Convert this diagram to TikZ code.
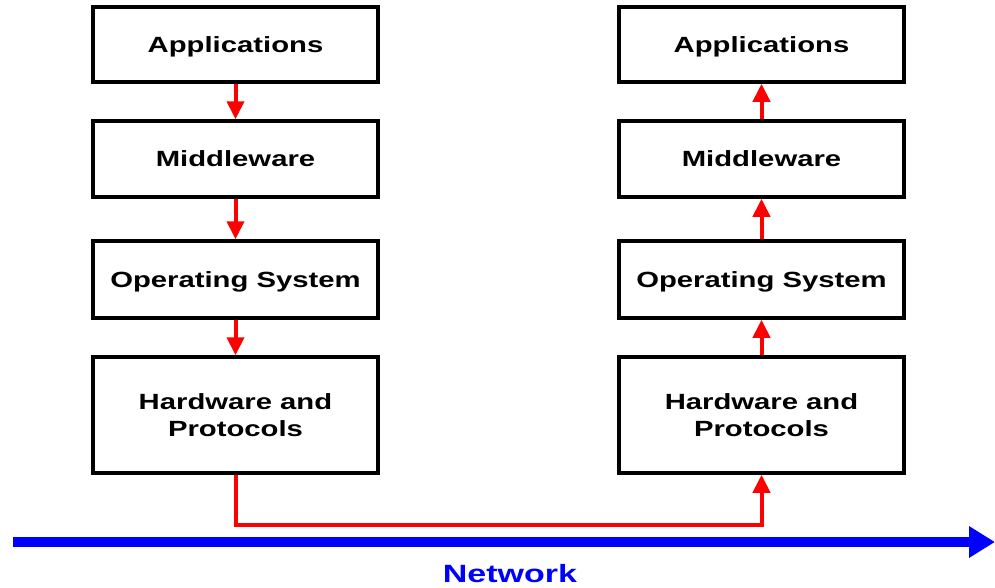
\documentclass[tikz,border=0pt]{standalone}
\usepackage{fontspec}
\setmainfont{Liberation Sans}
\newfontfamily\boxfont[FakeStretch=1.33]{Liberation Sans}
\newfontfamily\netfont[FakeStretch=1.36]{Liberation Sans}
\usetikzlibrary{arrows.meta}
\tikzset{
  layerbox/.style={draw=black, line width=3.5pt, fill=white, minimum width=285pt, align=center,
    text depth=0pt, font=\boxfont\fontsize{22}{27}\selectfont\bfseries},
  redarrow/.style={draw=red, line width=4pt, -{Triangle[length=18pt,width=17pt]}},
  netarrow/.style={draw=blue, line width=10pt, -{Triangle[length=26pt,width=30pt]}}
}
\begin{document}
\begin{tikzpicture}[x=1pt,y=-1pt]
\useasboundingbox (0,0) rectangle (995,587);
% left column
\node[layerbox, minimum height=75pt] (appL) at (235.5,44.5) {Applications};
\node[layerbox, minimum height=76pt] (midL) at (235.5,159) {Middleware};
\node[layerbox, minimum height=77pt] (osL) at (235.5,279.5) {Operating System};
\node[layerbox, minimum height=116pt] (hwL) at (235.5,415) {Hardware and\\Protocols};
% right column
\node[layerbox, minimum height=75pt] (appR) at (761.5,44.5) {Applications};
\node[layerbox, minimum height=76pt] (midR) at (761.5,159) {Middleware};
\node[layerbox, minimum height=77pt] (osR) at (761.5,279.5) {Operating System};
\node[layerbox, minimum height=116pt] (hwR) at (761.5,415) {Hardware and\\Protocols};
% down arrows
\draw[redarrow] (appL.south) -- (midL.north);
\draw[redarrow] (midL.south) -- (osL.north);
\draw[redarrow] (osL.south) -- (hwL.north);
% up arrows
\draw[redarrow] (midR.north) -- (appR.south);
\draw[redarrow] (osR.north) -- (midR.south);
\draw[redarrow] (hwR.north) -- (osR.south);
% bus
\coordinate (bus) at (0,525);
\draw[redarrow] (hwL.south) -- (hwL.south |- bus) -- (hwR.south |- bus) -- (hwR.south);
% network
\coordinate (netL) at (13,542);
\coordinate (netR) at (995,542);
\draw[netarrow] (netL) -- (netR);
\node[text=blue, text depth=0pt, font=\netfont\fontsize{25}{28}\selectfont\bfseries] (netlabel) at (510,573) {Network};
\end{tikzpicture}
\end{document}
